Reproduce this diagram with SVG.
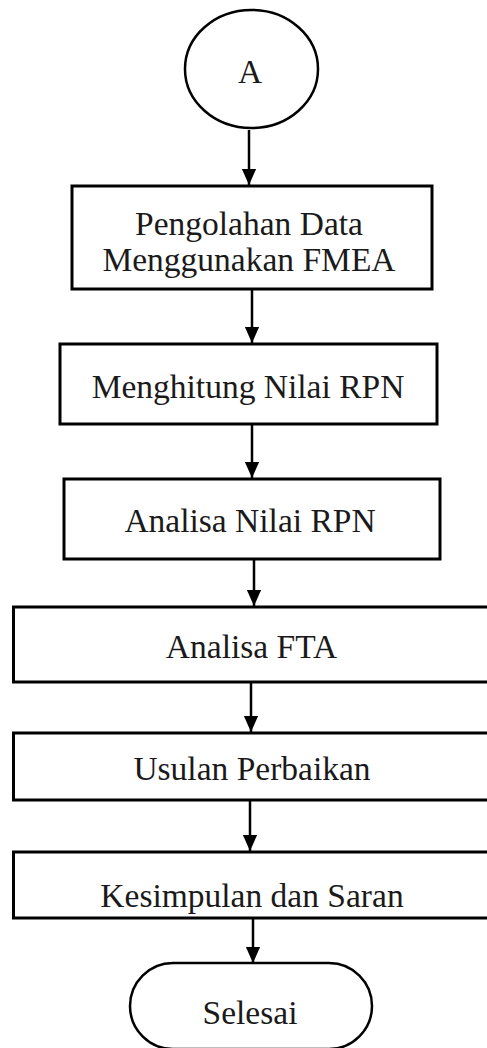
<svg xmlns="http://www.w3.org/2000/svg" width="487" height="1048" viewBox="0 0 487 1048">
<defs>
<style>
.box{fill:#fff;stroke:#000;stroke-width:3}
.term{fill:#fff;stroke:#000;stroke-width:2.5}
.lbl{font-family:"Liberation Serif","Times New Roman",serif;font-size:33.5px;fill:#1a1a1a;text-anchor:middle}
.conn{stroke:#000;stroke-width:2.5;fill:none}
</style>
<marker id="ah" markerWidth="16" markerHeight="18" refX="8" refY="18" orient="auto-start-reverse" markerUnits="userSpaceOnUse" viewBox="0 0 16 18">
<path d="M0,0 L16,0 L8,18 Z" fill="#000" transform="rotate(-90 8 9) translate(0 0)"/>
</marker>
<marker id="arr" markerWidth="16" markerHeight="18" refX="18" refY="8" orient="auto" markerUnits="userSpaceOnUse" viewBox="0 0 18 16">
<path d="M0,0 L18,8 L0,16 Z" fill="#000"/>
</marker>
<clipPath id="clip1"><rect x="72" y="186" width="360" height="93"/></clipPath>
</defs>
<rect width="487" height="1048" fill="#fff"/>
<g id="connectors">
<line class="conn" x1="249" y1="130" x2="249" y2="185" marker-end="url(#arr)"/>
<line class="conn" x1="252" y1="290" x2="252" y2="343" marker-end="url(#arr)"/>
<line class="conn" x1="252" y1="424" x2="252" y2="478" marker-end="url(#arr)"/>
<line class="conn" x1="254" y1="559" x2="254" y2="606" marker-end="url(#arr)"/>
<line class="conn" x1="251" y1="682" x2="251" y2="732" marker-end="url(#arr)"/>
<line class="conn" x1="250" y1="800" x2="250" y2="851" marker-end="url(#arr)"/>
<line class="conn" x1="253" y1="918" x2="253" y2="963" marker-end="url(#arr)"/>
</g>
<g id="node-a">
<ellipse class="term" cx="251.5" cy="69" rx="66.5" ry="59"/>
<text class="lbl" x="250" y="83">A</text>
</g>
<g id="node-fmea">
<rect class="box" x="72" y="186" width="360" height="103"/>
<g clip-path="url(#clip1)">
<text class="lbl" x="249" y="235">Pengolahan Data</text>
<text class="lbl" x="249" y="271">Menggunakan FMEA</text>
</g>
</g>
<g id="node-rpn">
<rect class="box" x="60" y="344" width="377" height="80"/>
<text class="lbl" x="248" y="398">Menghitung Nilai RPN</text>
</g>
<g id="node-analisa-rpn">
<rect class="box" x="64" y="479" width="376" height="80"/>
<text class="lbl" x="250" y="532">Analisa Nilai RPN</text>
</g>
<g id="node-fta">
<rect class="box" x="13.5" y="607" width="490" height="75"/>
<text class="lbl" x="251.5" y="658">Analisa FTA</text>
</g>
<g id="node-usulan">
<rect class="box" x="13.5" y="733" width="490" height="67"/>
<text class="lbl" x="252" y="780">Usulan Perbaikan</text>
</g>
<g id="node-kesimpulan">
<rect class="box" x="13.5" y="852" width="490" height="66"/>
<text class="lbl" x="252" y="907">Kesimpulan dan Saran</text>
</g>
<g id="node-selesai">
<rect class="term" x="130" y="963" width="242" height="86" rx="43" ry="43"/>
<text class="lbl" x="250" y="1024">Selesai</text>
</g>
</svg>
